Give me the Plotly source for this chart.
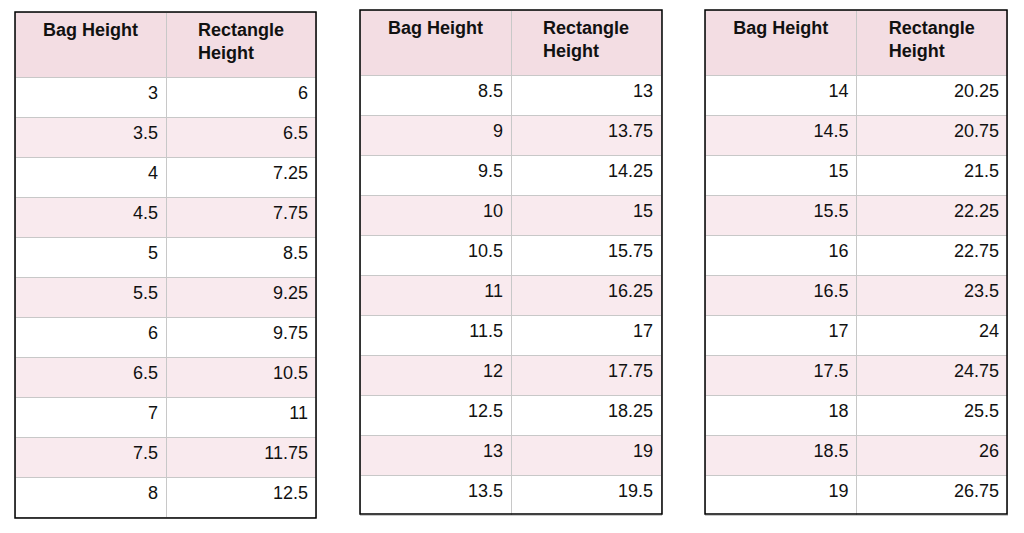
import plotly.graph_objects as go

header = ["<b>Bag Height</b>", "<b>Rectangle<br>Height</b>"]

bag1 = [3, 3.5, 4, 4.5, 5, 5.5, 6, 6.5, 7, 7.5, 8]
rect1 = [6, 6.5, 7.25, 7.75, 8.5, 9.25, 9.75, 10.5, 11, 11.75, 12.5]
bag2 = [8.5, 9, 9.5, 10, 10.5, 11, 11.5, 12, 12.5, 13, 13.5]
rect2 = [13, 13.75, 14.25, 15, 15.75, 16.25, 17, 17.75, 18.25, 19, 19.5]
bag3 = [14, 14.5, 15, 15.5, 16, 16.5, 17, 17.5, 18, 18.5, 19]
rect3 = [20.25, 20.75, 21.5, 22.25, 22.75, 23.5, 24, 24.75, 25.5, 26, 26.75]

# the page body has an 8px margin, so work in shifted pixel coordinates
OFF = 8
W, H = 1024 - OFF, 533 - OFF
boxes = [(15, 12, 316, 518), (360, 10, 662, 514), (705, 10, 1007, 514)]
data = [(bag1, rect1), (bag2, rect2), (bag3, rect3)]

fill = ["white" if i % 2 == 0 else "#f9eaee" for i in range(11)]
fig = go.Figure()
for (l, t, r, b), (bag, rect) in zip(boxes, data):
    l, t, r, b = l - OFF, t - OFF, r - OFF, b - OFF
    fig.add_trace(go.Table(
        domain=dict(x=[l / W, r / W], y=[1 - (b + 2) / H, 1 - t / H]),
        columnwidth=[151, 150],
        header=dict(values=header, fill_color="#f3dde3", line_color="#c8c8c8",
                    align="center", height=65,
                    font=dict(family="Liberation Sans, Arial", size=18, color="#111")),
        cells=dict(values=[[str(v) for v in bag], [str(v) for v in rect]],
                   fill_color=[fill, fill], line_color="#c8c8c8", align="right",
                   height=40,
                   font=dict(family="Liberation Sans, Arial", size=18, color="#111")),
    ))
    fig.add_shape(type="rect", xref="paper", yref="paper",
                  x0=l / W, x1=r / W, y0=1 - b / H, y1=1 - t / H,
                  line=dict(color="black", width=1.5))

fig.update_layout(width=W, height=H, margin=dict(l=0, r=0, t=0, b=0),
                  paper_bgcolor="white")
fig.write_html("out.html")
